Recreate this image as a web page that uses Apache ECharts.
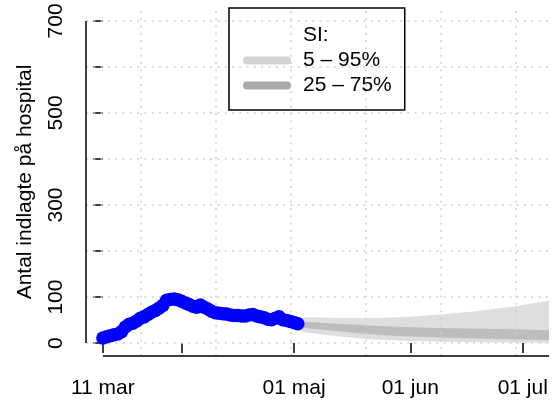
<!DOCTYPE html>
<html>
<head>
<meta charset="utf-8">
<script src="https://cdn.jsdelivr.net/npm/echarts@6/dist/echarts.min.js"></script>
<style>
  html, body { margin: 0; padding: 0; background: #fff; }
  #chart { width: 555px; height: 402px; }
</style>
</head>
<body>
<div id="chart"></div>
<script>
// observerede indlagte, en værdi pr. dag fra obsStart
var obsStart = '2020-03-11';
var indlagte = [11, 14, 16, 18, 20, 25, 35, 41, 43, 48,
                54, 57, 62, 67, 71, 76, 82, 93, 95, 96,
                94, 91, 87, 84, 80, 78, 83, 78, 74, 69,
                66, 65, 64, 63, 61, 60, 60, 59, 59, 61,
                62, 59, 57, 55, 52, 51, 54, 57, 51, 49,
                47, 45, 42];

// prognose-intervaller
var bandDates = ['2020-04-30', '2020-05-05', '2020-05-10', '2020-05-20', '2020-05-30',
                 '2020-06-09', '2020-06-19', '2020-06-29', '2020-07-08'];
var p5  = [30, 22, 17, 9, 5, 3, 2, 1.5, 1];
var p25 = [38, 32, 28, 20, 15, 12, 10, 8, 6];
var p75 = [46, 46, 43, 39, 35, 33, 31, 30, 28];
var p95 = [52, 56, 55, 54, 56, 62, 70, 80, 92];

// akser
var tickDates  = ['2020-03-11', '2020-04-01', '2020-05-01', '2020-06-01', '2020-07-01'];
var tickLabels = ['11 mar', '', '01 maj', '01 jun', '01 jul'];
var gridDates  = ['2020-03-21', '2020-04-10', '2020-04-30', '2020-05-20', '2020-06-09', '2020-06-29'];
var yTicks  = [0, 100, 200, 300, 400, 500, 600, 700];
var yLabels = [0, 100, 300, 500, 700];

var FONT = 'Liberation Sans, Arial, Helvetica, sans-serif';
var X_MIN = -4.5, X_MAX = 119, Y_MIN = -28, Y_MAX = 728;

// dage efter obsStart
function dayOf(s) {
  return Math.round((Date.parse(s) - Date.parse(obsStart)) / 86400000);
}

var obsData = indlagte.map(function (v, i) { return [i, v]; });
var bandX = bandDates.map(dayOf);
var band95 = bandX.map(function (d, i) { return [d, p5[i], p95[i]]; });
var band75 = bandX.map(function (d, i) { return [d, p25[i], p75[i]]; });

var tickDays = tickDates.map(dayOf);
var labelMap = {};
tickDays.forEach(function (d, i) { labelMap[d] = tickLabels[i]; });
var labelDays = tickDays.filter(function (d, i) { return tickLabels[i] !== ''; });

var gridLine = { color: '#cfcfcf', type: [2, 5.3], width: 1.5 };
var gridMarks = gridDates.map(function (s) { return { xAxis: dayOf(s) }; })
  .concat(yTicks.map(function (v) { return { yAxis: v }; }));

var pill = 'path://M4,0H44A4,4,0,0,1,44,8H4A4,4,0,0,1,4,0Z';

// tegner et helt bånd som polygon gennem akserne
function bandRenderer(rows, fill, opacity) {
  return function (params, api) {
    if (params.dataIndex !== 0) return;
    var upper = rows.map(function (r) { return api.coord([r[0], r[2]]); });
    var lower = rows.map(function (r) { return api.coord([r[0], r[1]]); }).reverse();
    return {
      type: 'polygon',
      shape: { points: upper.concat(lower) },
      style: { fill: fill, opacity: opacity }
    };
  };
}

var myChart = echarts.init(document.getElementById('chart'));

var option = {
  animation: false,
  textStyle: { fontFamily: FONT },
  grid: { left: 86, right: 6, top: 8, bottom: 46 },
  legend: {
    orient: 'vertical',
    left: 229,
    top: 8,
    padding: [15, 13, 12, 14],
    borderColor: '#000',
    borderWidth: 1.5,
    itemGap: 0,
    itemWidth: 48,
    itemHeight: 8,
    selectedMode: false,
    textStyle: { fontSize: 21, color: '#000', lineHeight: 25, padding: [0, 0, 0, 7], fontFamily: FONT },
    data: [
      { name: 'SI:', icon: 'none' },
      { name: '5 – 95%', icon: pill, itemStyle: { color: '#d3d3d3' } },
      { name: '25 – 75%', icon: pill, itemStyle: { color: '#a9a9a9' } }
    ]
  },
  xAxis: {
    type: 'value',
    min: X_MIN,
    max: X_MAX,
    axisLine: { show: false },
    splitLine: { show: false },
    axisTick: { show: true, length: 10, customValues: tickDays, lineStyle: { color: '#000', width: 1.5 } },
    axisLabel: {
      customValues: labelDays,
      margin: 22,
      fontSize: 21,
      color: '#000',
      fontFamily: FONT,
      formatter: function (v) { return labelMap[v] || ''; }
    }
  },
  yAxis: {
    type: 'value',
    min: Y_MIN,
    max: Y_MAX,
    name: 'Antal indlagte på hospital',
    nameLocation: 'middle',
    nameGap: 50,
    nameRotate: 90,
    nameTextStyle: { fontSize: 21, color: '#000', fontFamily: FONT },
    axisLine: { show: false },
    splitLine: { show: false },
    axisTick: { show: true, length: 10, customValues: yTicks, lineStyle: { color: '#000', width: 1.5 } },
    axisLabel: {
      customValues: yLabels,
      rotate: 90,
      margin: 19,
      fontSize: 21,
      color: '#000',
      fontFamily: FONT
    }
  },
  series: [
    {
      name: 'SI:',
      type: 'line',
      data: [],
      silent: true,
      z: 1,
      markLine: {
        silent: true,
        symbol: ['none', 'none'],
        label: { show: false },
        lineStyle: gridLine,
        data: gridMarks
      }
    },
    {
      name: '5 – 95%',
      type: 'custom',
      data: band95,
      encode: { x: 0, y: [1, 2] },
      renderItem: bandRenderer(band95, '#d3d3d3', 0.75),
      silent: true,
      z: 2
    },
    {
      name: '25 – 75%',
      type: 'custom',
      data: band75,
      encode: { x: 0, y: [1, 2] },
      renderItem: bandRenderer(band75, '#a9a9a9', 0.62),
      silent: true,
      z: 3
    },
    {
      name: 'indlagte',
      type: 'scatter',
      data: obsData,
      symbol: 'circle',
      symbolSize: 13.5,
      itemStyle: { color: '#0000ff', opacity: 1 },
      z: 5
    },
    {
      // y-aksens linje fra 0 til 700, som i R
      name: 'yakse',
      type: 'line',
      data: [[X_MIN, yTicks[0]], [X_MIN, yTicks[yTicks.length - 1]]],
      showSymbol: false,
      clip: false,
      silent: true,
      lineStyle: { color: '#000', width: 1.5 },
      z: 6
    },
    {
      // x-aksens linje fra første tick til kanten
      name: 'xakse',
      type: 'line',
      data: [[tickDays[0], Y_MIN], [X_MAX, Y_MIN]],
      showSymbol: false,
      clip: false,
      silent: true,
      lineStyle: { color: '#000', width: 1.5 },
      z: 6
    }
  ]
};

option && myChart.setOption(option);
</script>
</body>
</html>
